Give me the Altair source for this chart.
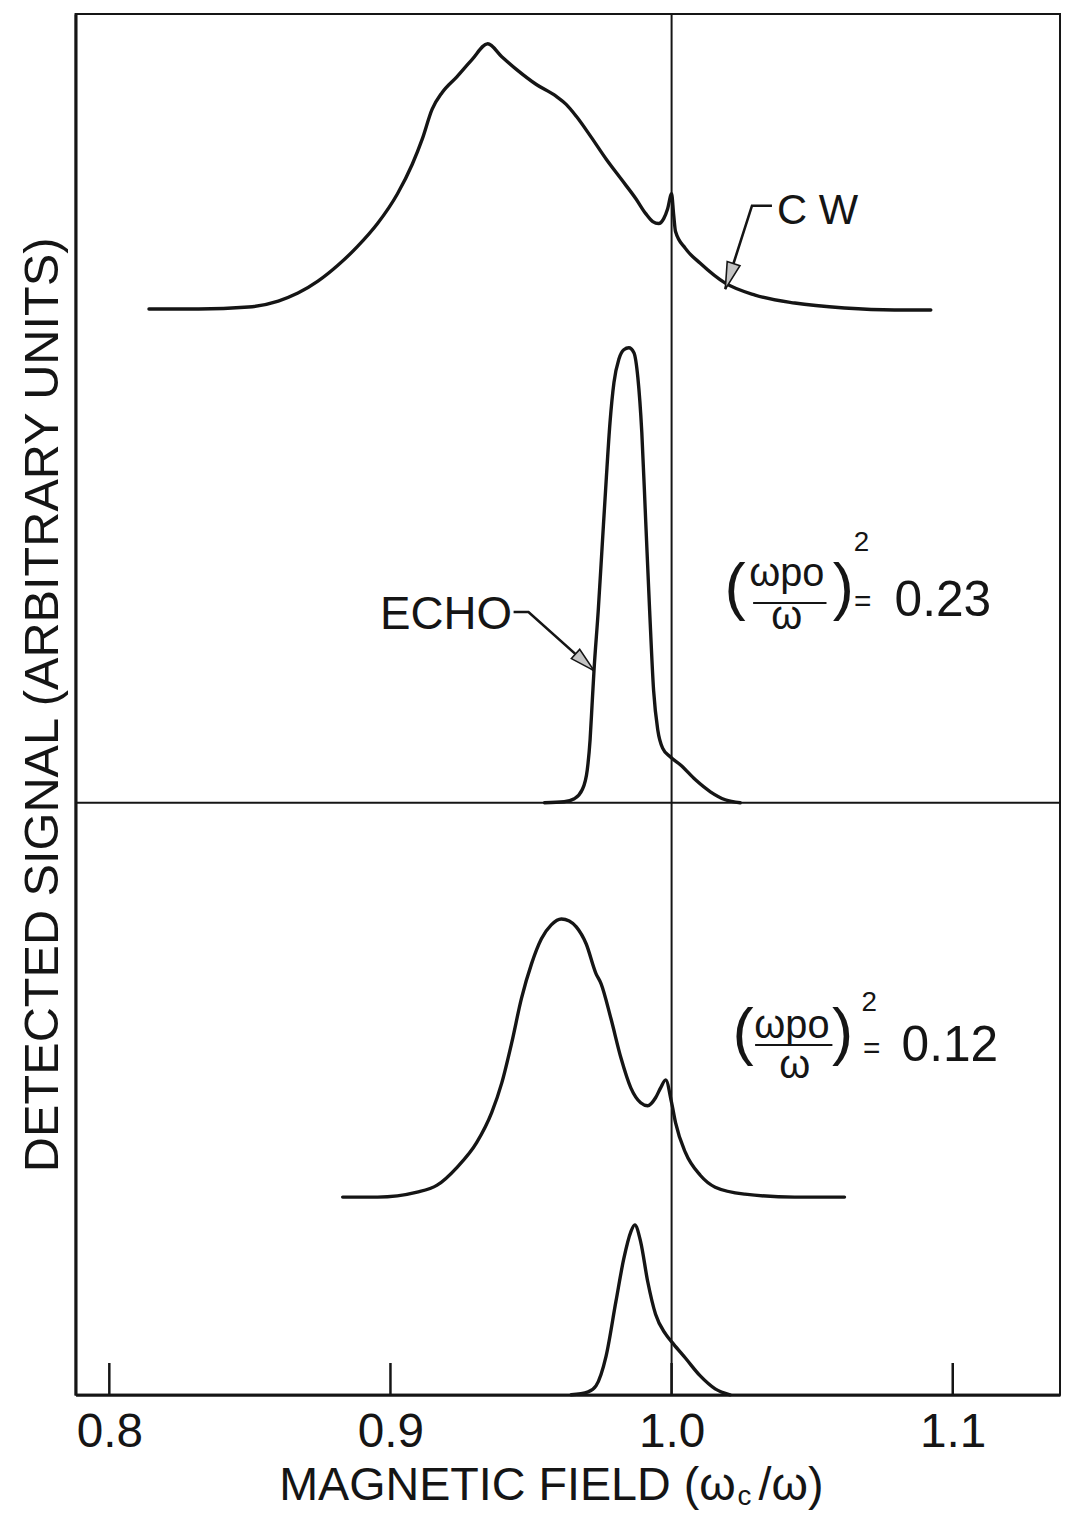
import altair as alt
import pandas as pd

# ---------------- data (field in units of wc/w, signal in arbitrary units) ----------------
cw_023_x = [0.8141, 0.8318, 0.8495, 0.8601, 0.8671, 0.8742, 0.8813, 0.8883, 0.8954, 0.9025,
            0.9078, 0.9113, 0.9148, 0.9184, 0.9237, 0.9290, 0.9346, 0.9396, 0.9449, 0.9519,
            0.9590, 0.9625, 0.9661, 0.9714, 0.9767, 0.9820, 0.9873, 0.9908, 0.9933, 0.9954,
            0.9972, 0.9986, 1.0000, 1.0007, 1.0014, 1.0049, 1.0102, 1.0191, 1.0297, 1.0438,
            1.0615, 1.0792, 1.0922]
cw_023_y = [10.93, 10.93, 10.95, 11.01, 11.09, 11.21, 11.37, 11.56, 11.79, 12.09,
            12.39, 12.64, 12.94, 13.11, 13.27, 13.44, 13.60, 13.47, 13.34, 13.19,
            13.07, 12.99, 12.87, 12.66, 12.44, 12.24, 12.04, 11.89, 11.81, 11.79,
            11.84, 11.94, 12.09, 11.89, 11.71, 11.54, 11.39, 11.19, 11.07, 10.99,
            10.94, 10.92, 10.92]

echo_023_x = [0.9548, 0.9618, 0.9654, 0.9682, 0.9700, 0.9710, 0.9717, 0.9724, 0.9739, 0.9753,
              0.9767, 0.9781, 0.9795, 0.9813, 0.9830, 0.9848, 0.9866, 0.9880, 0.9894, 0.9908,
              0.9922, 0.9936, 0.9951, 0.9968, 0.9996, 1.0032, 1.0085, 1.0138, 1.0191, 1.0244]
echo_023_y = [5.96, 5.97, 6.00, 6.09, 6.29, 6.59, 6.94, 7.29, 7.89, 8.54,
              9.19, 9.79, 10.19, 10.43, 10.52, 10.54, 10.49, 10.24, 9.69, 8.79,
              7.89, 7.09, 6.69, 6.51, 6.42, 6.34, 6.19, 6.07, 5.99, 5.96]

cw_012_x = [0.8830, 0.8954, 0.9095, 0.9166, 0.9237, 0.9307, 0.9360, 0.9396, 0.9431, 0.9466,
            0.9502, 0.9537, 0.9572, 0.9608, 0.9636, 0.9661, 0.9696, 0.9731, 0.9749, 0.9784,
            0.9820, 0.9855, 0.9890, 0.9915, 0.9943, 0.9961, 0.9979, 1.0000, 1.0014, 1.0049,
            1.0102, 1.0155, 1.0261, 1.0438, 1.0615]
cw_012_y = [1.99, 1.99, 2.04, 2.11, 2.29, 2.54, 2.84, 3.14, 3.54, 3.99,
            4.34, 4.59, 4.73, 4.79, 4.77, 4.71, 4.54, 4.24, 4.14, 3.79,
            3.39, 3.09, 2.94, 2.91, 2.99, 3.09, 3.17, 2.94, 2.74, 2.44,
            2.21, 2.09, 2.02, 1.99, 1.99]

echo_012_x = [0.9643, 0.9703, 0.9731, 0.9767, 0.9802, 0.9830, 0.9855, 0.9869, 0.9890, 0.9915,
              0.9943, 0.9979, 1.0007, 1.0049, 1.0102, 1.0155, 1.0208]
echo_012_y = [0.00, 0.03, 0.09, 0.39, 0.94, 1.37, 1.64, 1.71, 1.54, 1.14,
              0.81, 0.61, 0.51, 0.37, 0.19, 0.06, 0.00]

tick_values = [0.8, 0.9, 1.0, 1.1]
x_domain = [0.78799, 1.13816]
y_domain = [0.0, 13.9]
resonance_field = 1.0
divider_level = 5.96

# annotation texts
ann_text = ["C W", "ECHO",
            "(", "ωpo", "ω", ")", "2", "=", "0.23",
            "(", "ωpo", "ω", ")", "2", "=", "0.12",
            "MAGNETIC FIELD (ω", "c", "/ω)"]
ann_x = [1.0519, 0.9198,
         1.0226, 1.0410, 1.0410, 1.0611, 1.0675, 1.0680, 1.0965,
         1.0254, 1.0428, 1.0438, 1.0608, 1.0703, 1.0712, 1.0990,
         0.9416, 1.0259, 1.0425]
ann_y = [11.79, 7.71,
         7.92, 8.14, 7.71, 7.92, 8.49, 7.89, 7.84,
         3.44, 3.59, 3.19, 3.44, 3.86, 3.39, 3.36,
         -1.06, -1.11, -1.06]
ann_size = [42, 46,
            64, 40, 40, 64, 28, 30, 50,
            64, 40, 40, 64, 28, 30, 50,
            47, 28, 47]

frac_x = [1.0290, 1.0297]
frac_x2 = [1.0551, 1.0572]
frac_y = [7.97, 3.52]

leader_id = ["cw", "cw", "cw", "echo", "echo", "echo"]
leader_x = [1.0357, 1.0286, 1.0191, 0.9438, 0.9491, 0.9724]
leader_y = [11.97, 11.97, 11.13, 7.88, 7.88, 7.29]

head_x = [1.0191, 0.9724]
head_y = [11.13, 7.29]
head_angle = [198, 132]
head_size = [2916, 2500]

# ---------------- tables ----------------
rows = []
for name, xs, ys in [("cw023", cw_023_x, cw_023_y), ("echo023", echo_023_x, echo_023_y),
                     ("cw012", cw_012_x, cw_012_y), ("echo012", echo_012_x, echo_012_y)]:
    for i, (a, b) in enumerate(zip(xs, ys)):
        rows.append({"series": name, "idx": i, "x": a, "y": b})
curves = pd.DataFrame(rows)

ann = pd.DataFrame({"text": ann_text, "x": ann_x, "y": ann_y, "size": ann_size})
fracs = pd.DataFrame({"x": frac_x, "x2": frac_x2, "y": frac_y})
leaders = pd.DataFrame({"id": leader_id, "idx": list(range(len(leader_x))), "x": leader_x, "y": leader_y})
heads = pd.DataFrame({"x": head_x, "y": head_y, "angle": head_angle, "size": head_size})
vline = pd.DataFrame({"x": [resonance_field], "y": [y_domain[0]], "y2": [y_domain[1]]})
hline = pd.DataFrame({"x": [x_domain[0]], "x2": [x_domain[1]], "y": [divider_level]})
ticks = pd.DataFrame({"x": tick_values, "y": [0.0] * 4, "y2": [0.32] * 4})

FONT = "Liberation Sans"
INK = "#151515"
xs_ = alt.Scale(domain=x_domain, nice=False, zero=False)
ys_ = alt.Scale(domain=y_domain, nice=False, zero=False)

x_axis = alt.Axis(
    values=tick_values, format=".1f", ticks=False, tickSize=0, grid=False,
    labelFont=FONT, labelFontSize=48, labelColor=INK, labelPadding=14,
    domainColor=INK, domainWidth=3, title=None)
y_axis = alt.Axis(
    labels=False, ticks=False, tickSize=0, grid=False,
    domainColor=INK, domainWidth=3,
    title="DETECTED SIGNAL (ARBITRARY UNITS)", titleFont=FONT, titleFontSize=49,
    titleFontWeight="normal", titleColor=INK, titlePadding=8)


def X(field="x"):
    return alt.X(f"{field}:Q", scale=xs_, axis=x_axis, title=None)


def Y(field="y"):
    return alt.Y(f"{field}:Q", scale=ys_, axis=y_axis, title="DETECTED SIGNAL (ARBITRARY UNITS)")


curve_layer = alt.Chart(curves).mark_line(
    interpolate="monotone", strokeWidth=3.4, color=INK, strokeJoin="round", strokeCap="round"
).encode(x=X(), y=Y(), detail="series:N", order="idx:Q")

vline_layer = alt.Chart(vline).mark_rule(color=INK, strokeWidth=2).encode(
    x=X(), y=Y(), y2="y2:Q")
hline_layer = alt.Chart(hline).mark_rule(color=INK, strokeWidth=2).encode(
    x=X(), x2="x2:Q", y=Y())
tick_layer = alt.Chart(ticks).mark_rule(color=INK, strokeWidth=2.5).encode(
    x=X(), y=Y(), y2="y2:Q")

text_layer = alt.Chart(ann).mark_text(
    font=FONT, color=INK, align="center", baseline="alphabetic"
).encode(x=X(), y=Y(), text="text:N", size=alt.Size("size:Q", scale=None, legend=None))

frac_layer = alt.Chart(fracs).mark_rule(color=INK, strokeWidth=2).encode(
    x=X(), x2="x2:Q", y=Y())

leader_layer = alt.Chart(leaders).mark_line(color=INK, strokeWidth=2.6).encode(
    x=X(), y=Y(), detail="id:N", order="idx:Q")

head_layer = alt.Chart(heads).mark_point(
    shape="M0,0L-0.25,1L0.25,1Z", filled=True, fill="#c4c4c4", stroke=INK,
    strokeWidth=1.6, opacity=1
).encode(
    x=X(), y=Y(),
    angle=alt.Angle("angle:Q", scale=None), size=alt.Size("size:Q", scale=None, legend=None))

chart = alt.layer(
    curve_layer, vline_layer, hline_layer, tick_layer, frac_layer,
    leader_layer, head_layer, text_layer
).properties(
    width=991, height=1390,
    padding={"left": 68, "top": 1, "right": 2, "bottom": 113},
    autosize=alt.AutoSizeParams(type="none"),
    background="white",
).configure_view(stroke=INK, strokeWidth=2)

chart.save("out.html", embed_options={"renderer": "svg", "actions": False})
